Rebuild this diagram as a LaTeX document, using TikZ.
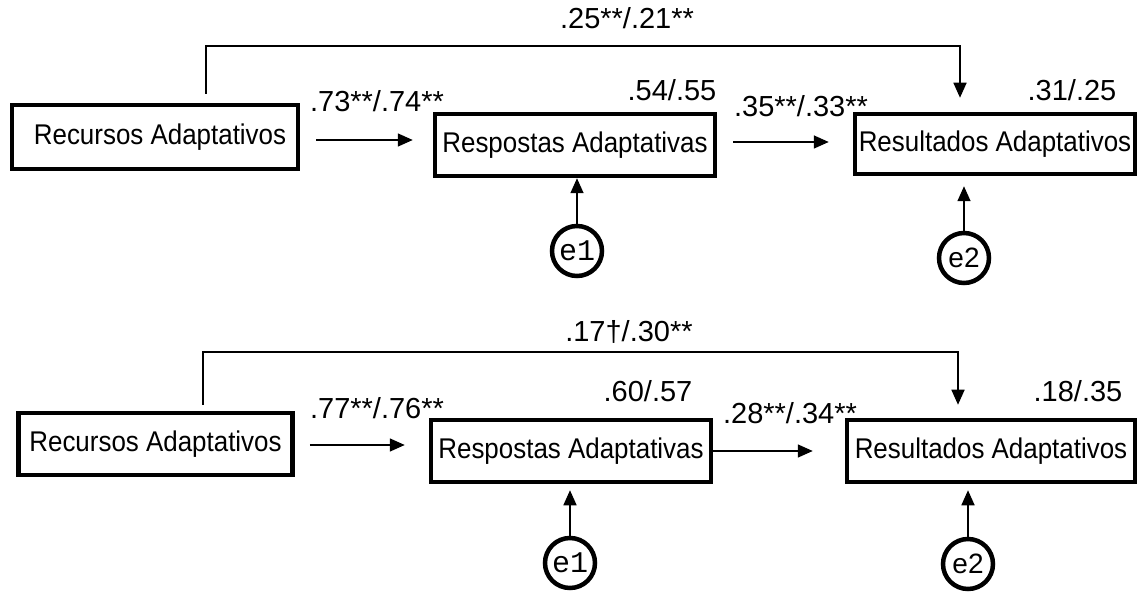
\documentclass[tikz,border=0pt]{standalone}
\usepackage{fontspec}
\setmainfont{Liberation Sans}[FakeStretch=0.91]
\newfontfamily\labfont{Liberation Sans}
\newfontfamily\monofont{Liberation Mono}
\usetikzlibrary{arrows.meta}
\begin{document}
\begin{tikzpicture}[x=1pt,y=-1pt,
  box/.style={draw,line width=4.5pt,inner sep=0pt,font=\fontsize{28.5}{30}\selectfont},
  err/.style={draw,circle,line width=4.5pt,minimum size=50pt,inner sep=0pt,font=\labfont\fontsize{28}{30}\selectfont},
  errm/.style={err,font=\monofont\fontsize{30}{30}\selectfont},
  lab/.style={inner sep=0pt,font=\labfont\fontsize{29}{30}\selectfont},
  arr/.style={line width=1.6pt,-{Triangle[length=15pt,width=13pt]}}]
\useasboundingbox (0,0) rectangle (1141,593);
% ---------- top model ----------
\node[box,minimum width=286pt,minimum height=64pt] (R1) at (155,137) {\hspace*{10pt}Recursos Adaptativos};
\node[box,minimum width=280pt,minimum height=62pt] (P1) at (575,145) {Respostas Adaptativas};
\node[box,minimum width=280pt,minimum height=60pt] (S1) at (995,144) {Resultados Adaptativos};
\node[errm] (E11) at (577,251) {e1};
\node[err] (E21) at (964,258) {e2};
\draw[arr] ([xshift=16pt,yshift=-3pt]R1.east) -- ([xshift=-20pt,yshift=5pt]P1.west);
\draw[arr] ([xshift=16pt,yshift=3pt]P1.east) -- ([xshift=-24pt,yshift=2pt]S1.west);
\draw[arr] ([xshift=51pt,yshift=9pt]R1.north) -- ++(0,-48) -| ([xshift=-35pt,yshift=14pt]S1.north);
\draw[arr] (E11) -- (E11 |- P1.south);
\draw[arr,shorten >=10pt] (E21) -- (E21 |- S1.south);
\node[lab] (L1a) at (627,18) {.25**/.21**};
\node[lab] (L1b) at (377,101) {.73**/.74**};
\node[lab] (L1c) at (672,90) {.54/.55};
\node[lab] (L1d) at (801,106) {.35**/.33**};
\node[lab] (L1e) at (1072,90) {.31/.25};
% ---------- bottom model ----------
\node[box,minimum width=274pt,minimum height=62pt] (R2) at (155.5,444) {Recursos Adaptativos};
\node[box,minimum width=280pt,minimum height=62pt] (P2) at (571,451) {Respostas Adaptativas};
\node[box,minimum width=288pt,minimum height=62pt] (S2) at (991,451) {Resultados Adaptativos};
\node[errm] (E12) at (570,563) {e1};
\node[err] (E22) at (968,564) {e2};
\draw[arr] ([xshift=15pt,yshift=-1pt]R2.east) -- ([xshift=-24pt,yshift=6pt]P2.west);
\draw[arr] (P2.east) -- ([xshift=-32pt]S2.west);
\draw[arr] ([xshift=47.5pt,yshift=6pt]R2.north) -- ++(0,-53) -| ([xshift=-33pt,yshift=13pt]S2.north);
\draw[arr,shorten >=6pt] (E12) -- (E12 |- P2.south);
\draw[arr,shorten >=6pt] (E22) -- (E22 |- S2.south);
\node[lab] (L2a) at (629,332) {.17†/.30**};
\node[lab] (L2b) at (377,408) {.77**/.76**};
\node[lab] (L2c) at (648,391) {.60/.57};
\node[lab] (L2d) at (790,413) {.28**/.34**};
\node[lab] (L2e) at (1078,391) {.18/.35};
\end{tikzpicture}
\end{document}
